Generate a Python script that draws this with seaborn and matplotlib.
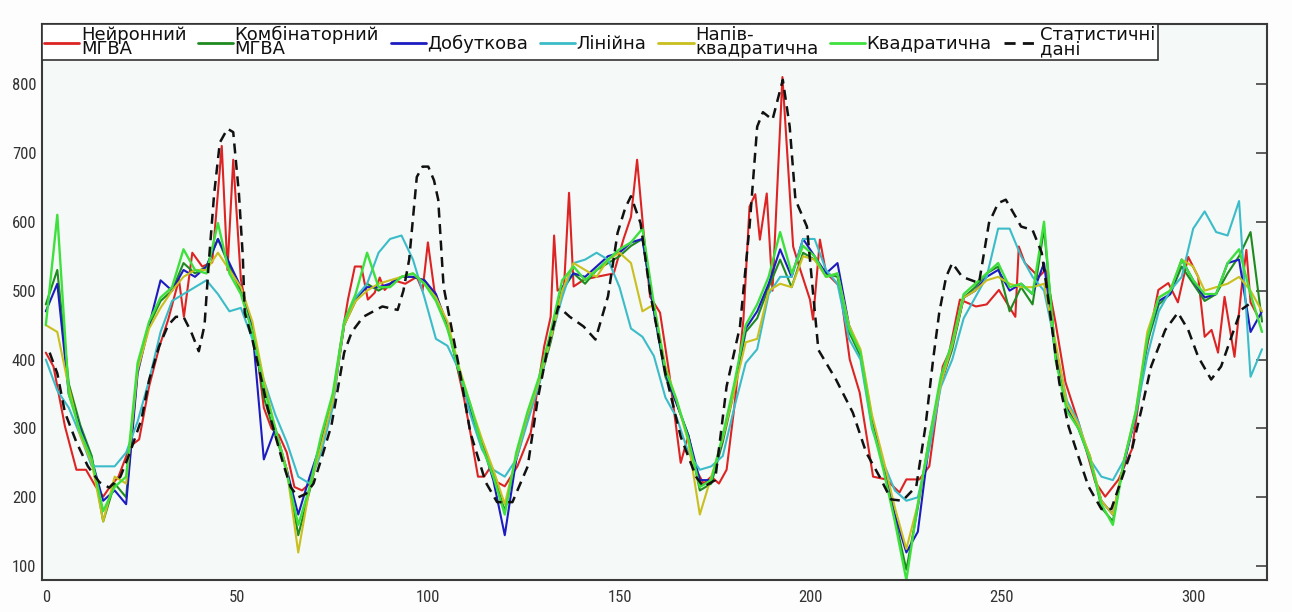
import matplotlib
matplotlib.use("Agg")
import matplotlib.pyplot as plt
import seaborn as sns
from matplotlib import font_manager

# ---------------- data ----------------
x_grid = list(range(0, 319, 3))   # shared x positions of the smoother model series

green = [
    450, 610, 350, 295, 255, 180, 215, 230, 395, 455,
    490, 505, 560, 530, 525, 598, 525, 495, 440, 360,
    300, 235, 160, 215, 290, 350, 455, 495, 555, 505,
    505, 520, 525, 510, 485, 445, 385, 335, 275, 230,
    175, 265, 325, 375, 440, 515, 535, 515, 530, 545,
    560, 570, 590, 480, 385, 340, 285, 215, 225, 290,
    365, 450, 480, 520, 585, 525, 565, 550, 520, 525,
    445, 410, 305, 240, 165, 80, 190, 285, 375, 425,
    495, 510, 525, 540, 505, 510, 495, 600, 400, 325,
    300, 255, 190, 160, 255, 325, 430, 490, 500, 545,
    515, 495, 495, 540, 560, 495, 440]

dark_green = [
    480, 530, 365, 305, 260, 165, 220, 200, 385, 450,
    485, 500, 540, 525, 535, 575, 535, 500, 450, 345,
    290, 240, 145, 210, 280, 340, 450, 485, 510, 500,
    510, 520, 520, 515, 490, 450, 380, 325, 280, 235,
    180, 255, 315, 365, 425, 500, 525, 510, 530, 540,
    550, 565, 575, 470, 375, 335, 290, 210, 220, 280,
    355, 440, 460, 505, 545, 505, 555, 545, 525, 520,
    440, 405, 310, 245, 170, 95, 185, 285, 365, 415,
    490, 505, 525, 535, 470, 505, 480, 590, 410, 330,
    300, 260, 185, 165, 255, 320, 425, 480, 495, 535,
    510, 485, 495, 525, 550, 585, 455]

blue = [
    470, 510, 350, 300, 255, 195, 210, 190, 380, 450,
    515, 500, 530, 520, 535, 575, 540, 505, 445, 255,
    300, 240, 175, 230, 280, 335, 450, 490, 505, 505,
    510, 520, 520, 515, 495, 450, 385, 330, 280, 225,
    145, 255, 320, 370, 430, 505, 525, 520, 535, 550,
    555, 570, 575, 470, 380, 335, 290, 225, 225, 285,
    360, 445, 470, 510, 560, 520, 575, 550, 525, 540,
    450, 410, 315, 250, 175, 120, 150, 280, 365, 420,
    490, 500, 520, 530, 500, 510, 495, 540, 405, 330,
    300, 255, 195, 175, 250, 320, 430, 485, 495, 545,
    515, 490, 495, 540, 545, 440, 470]

yellow = [
    450, 440, 360, 290, 250, 165, 230, 220, 385, 445,
    475, 500, 520, 530, 530, 555, 530, 505, 455, 370,
    300, 240, 120, 215, 275, 340, 450, 485, 500, 510,
    515, 520, 525, 510, 490, 455, 390, 335, 285, 240,
    190, 260, 320, 370, 430, 500, 540, 530, 520, 545,
    555, 540, 470, 480, 390, 340, 280, 175, 230, 285,
    355, 425, 430, 500, 510, 505, 550, 545, 520, 525,
    450, 415, 320, 255, 185, 125, 190, 285, 365, 420,
    490, 500, 515, 520, 510, 505, 505, 510, 425, 335,
    305, 260, 195, 175, 255, 325, 440, 490, 500, 545,
    535, 500, 505, 510, 520, 500, 470]

cyan = [
    400, 355, 330, 290, 245, 245, 245, 265, 310, 370,
    440, 485, 495, 505, 515, 495, 470, 475, 430, 370,
    320, 280, 230, 220, 265, 330, 455, 490, 510, 555,
    575, 580, 545, 490, 430, 420, 385, 320, 270, 240,
    230, 255, 310, 365, 430, 490, 540, 545, 555, 545,
    505, 445, 433, 405, 345, 315, 265, 240, 245, 260,
    330, 395, 415, 495, 520, 520, 575, 575, 530, 510,
    430, 400, 300, 250, 210, 195, 200, 270, 360, 400,
    460, 490, 520, 590, 590, 550, 520, 500, 420, 340,
    309, 255, 230, 225, 255, 320, 405, 470, 500, 520,
    590, 615, 585, 580, 630, 375, 415]

x_red = [0, 2, 5, 8, 10.5, 13, 15, 16.6, 19, 22, 24.4, 27, 29.7, 32, 34.8, 36.1,
         38.3, 40.9, 43.5, 46, 47.5, 49, 51, 53, 55, 57, 59, 61, 63, 65, 67, 69,
         71, 73, 75, 77, 79, 80.8, 82.5, 84.2, 86, 87.3, 88.6, 91, 94, 97, 98.5,
         99.9, 101.6, 104, 106, 109.4, 111, 113, 114.6, 116.4, 118, 120, 123.3,
         126.8, 130.3, 132, 132.9, 133.8, 135.5, 136.8, 138, 140.7, 144, 148.5,
         151, 153, 154.6, 156.3, 158, 160.6, 163, 166, 168, 170, 172, 174, 176,
         178, 180, 182.4, 184, 185.5, 186.7, 188.5, 190, 192.6, 195.4, 197, 199.8,
         200.6, 202.4, 204, 207.6, 210.2, 212.8, 216.3, 219.7, 223.2, 225, 228.4,
         231, 234.5, 236.2, 239, 243.2, 246, 249.2, 253.5, 254.4, 256, 259.6,
         261.4, 264, 266.6, 270, 274.4, 277, 280.5, 284, 287.4, 290.9, 293.5, 296,
         298.7, 301.3, 303, 304.8, 306.5, 308.2, 310.8, 312.6, 313.9, 315, 317]
red = [410, 390, 303, 240, 240, 216, 201, 214, 230, 274, 284, 361, 419, 458, 516, 462,
       555, 535, 541, 710, 530, 690, 516, 460, 420, 330, 300, 290, 265, 215, 210, 220,
       260, 300, 340, 420, 487, 535, 535, 487, 497, 519, 501, 515, 510, 520, 500,
       570, 500, 462, 429, 342, 294, 230, 230, 245, 222, 216, 245,
       294, 419, 462, 580, 500, 506, 642, 506, 516, 520, 525,
       574, 607, 690, 584, 491, 468, 380, 250, 290, 240, 220, 230, 220,
       240, 330, 458, 622, 640, 574, 641, 500, 810, 564, 535, 487,
       458, 574, 526, 506, 400, 352, 230, 226, 207, 226, 226,
       245, 390, 410, 487, 477, 480, 501, 462, 564, 540, 520,
       530, 454, 367, 309, 222, 201, 226, 270, 404, 501, 511, 483,
       549, 520, 433, 443, 410, 491, 404, 501, 559, 483, 462]

x_stat = [1, 3, 5, 8, 11, 14, 16.6, 19.5, 22, 25, 27, 29.6, 32, 34, 36, 38, 40, 41.5,
          42.6, 44, 45.5, 47.5, 49, 50.5, 51.5, 52, 54, 56, 58, 60, 62, 64, 66, 68, 70,
          72, 74.7, 78, 80, 83, 88, 92, 93.5, 95, 97, 98.5, 100, 101.5, 102.6, 104, 108,
          111, 115, 118, 122, 126, 128.6, 131, 134, 137, 140.6, 143.7, 147, 149.5,
          151.5, 153, 155.5, 158, 162, 166, 170, 172, 175, 178, 181.5, 184, 186, 187.5,
          190, 192.7, 194.5, 196, 199, 200.6, 202, 206.6, 211, 214.5, 218, 221, 224,
          227.6, 230, 232, 233.6, 235.4, 237, 239.6, 244, 246.6, 249, 251, 253.6, 255,
          258, 260.4, 262, 265, 267.4, 270, 272.6, 276, 278.6, 281, 284, 286.5, 289,
          292.7, 296, 298.7, 301.3, 304.7, 307.3, 310, 312.5, 314.5]
stat = [410, 380, 323, 280, 245, 222, 214, 230, 265, 313, 370, 419, 450, 462, 462, 440,
        412, 450, 540, 640, 715, 735, 730, 640, 550, 468, 429, 380, 330, 290, 250, 215,
        200, 205, 220, 255, 305, 410, 440, 462, 477, 472, 500, 545, 665, 680, 680, 660,
        632, 506, 390, 294, 222, 193, 193, 245, 342, 410, 477, 462, 448, 429, 492, 584,
        620, 637, 598, 497, 380, 288, 230, 215, 225, 361, 448, 593, 738, 759, 748, 806,
        738, 632, 593, 497, 414, 371, 323, 265, 230, 197, 195, 216, 303, 400, 468, 520,
        540, 520, 511, 598, 627, 632, 607, 593, 588, 555, 492, 366, 303, 259, 216, 183,
        183, 222, 270, 328, 390, 443, 468, 443, 404, 371, 390, 433, 472, 480]

series_labels = ["Нейронний\nМГВА", "Комбінаторний\nМГВА", "Добуткова", "Лінійна",
                 "Напів-\nквадратична", "Квадратична", "Статистичні\nдані"]
x_ticks = [0, 50, 100, 150, 200, 250, 300]
y_ticks = [100, 200, 300, 400, 500, 600, 700, 800]

# ---------------- styling ----------------
sns.set_style("white")


def has_font(name):
    try:
        font_manager.findfont(name, fallback_to_default=False)
        return True
    except Exception:
        return False


tick_font = "DejaVu Sans"
for cand in ["Liberation Sans Narrow", "Roboto Condensed", "Roboto"]:
    if has_font(cand):
        tick_font = cand
        break
plt.rcParams["font.family"] = ["DejaVu Sans"]

W, H = 1292, 612
fig = plt.figure(figsize=(W / 100, H / 100), dpi=100, facecolor="#fcfdfc")
ax = fig.add_axes([42 / W, 1 - 580 / H, (1267 - 42) / W, (580 - 24) / H])
ax.set_facecolor("#f5f9f7")

series = [
    (series_labels[0], x_red, red, "#dd2424", 1.5),
    (series_labels[1], x_grid, dark_green, "#1f8a1f", 1.5),
    (series_labels[2], x_grid, blue, "#1c1cc0", 1.5),
    (series_labels[3], x_grid, cyan, "#3cbcc8", 1.5),
    (series_labels[4], x_grid, yellow, "#c9bf1e", 1.5),
    (series_labels[5], x_grid, green, "#3ee03e", 1.7),
]
for lab, xs, ys, col, lw in series:
    sns.lineplot(x=xs, y=ys, ax=ax, color=col, linewidth=lw, label=lab,
                 sort=False, estimator=None)

sns.lineplot(x=x_stat, y=stat, ax=ax, color="#111111", linewidth=1.8,
             label=series_labels[6], sort=False, estimator=None, linestyle="--")
ax.lines[-1].set_dashes([4, 2.6])

ax.set_xlim(-1, 319.3)
ax.set_ylim(80, 887)
ax.set_xticks(x_ticks)
ax.set_yticks(y_ticks)
ax.set_xlabel("")
ax.set_ylabel("")

for s in ax.spines.values():
    s.set_visible(True)
    s.set_color("#3a3a3a")
    s.set_linewidth(1.5)

ax.tick_params(axis="both", direction="in", colors="#333333", width=1.1, labelsize=12)
ax.tick_params(axis="x", length=15, pad=7, top=False)
ax.tick_params(axis="y", length=8, pad=4, right=True)
for t in ax.get_xticklabels() + ax.get_yticklabels():
    t.set_fontfamily(tick_font)
    t.set_fontstretch("condensed")
    t.set_color("#333333")

leg = ax.legend(loc="upper left", bbox_to_anchor=(0, 1), ncol=7, frameon=True,
                fancybox=False, borderaxespad=0, handlelength=1.95, handletextpad=0.08,
                columnspacing=0.65, borderpad=0.12, fontsize=13)
leg.get_frame().set_edgecolor("#333333")
leg.get_frame().set_linewidth(1.2)
leg.get_frame().set_facecolor("white")
leg.get_frame().set_alpha(1)
for t in leg.get_texts():
    t.set_linespacing(0.7)
    t.set_color("#111111")
for h in leg.legend_handles:
    h.set_linewidth(2.0)

fig.savefig("out.png", dpi=100, facecolor=fig.get_facecolor())
